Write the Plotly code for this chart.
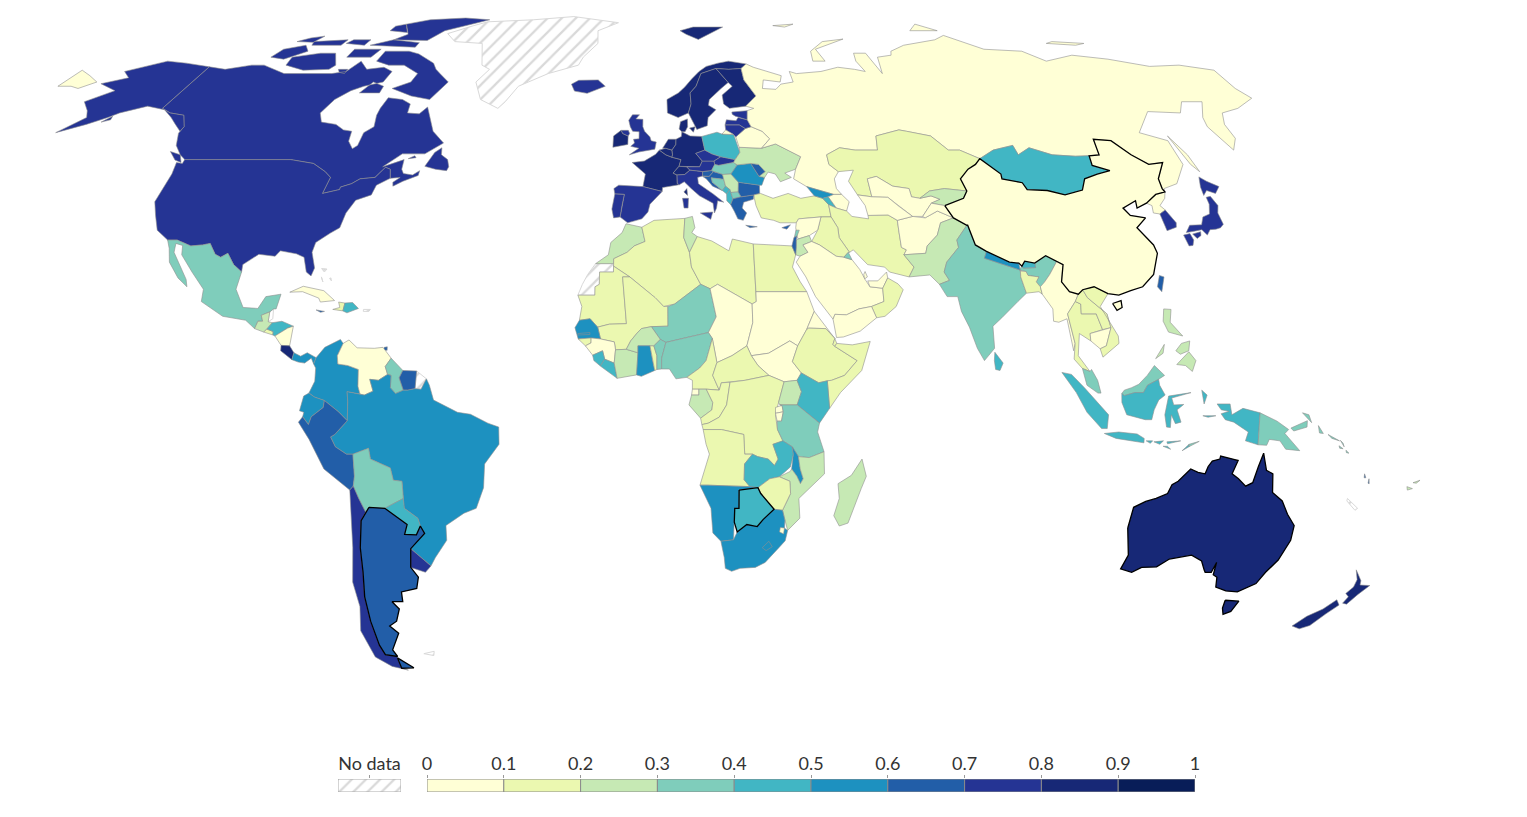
"""World choropleth on a Robinson projection, drawn as filled xy traces (no topojson offline)."""
import numpy as np
import plotly.graph_objects as go

# ── Legend ──────────────────────────────────────────────────────────────────
BIN_EDGES = [0, 0.1, 0.2, 0.3, 0.4, 0.5, 0.6, 0.7, 0.8, 0.9, 1]
TICK_LABELS = ["0", "0.1", "0.2", "0.3", "0.4", "0.5", "0.6", "0.7", "0.8", "0.9", "1"]
BIN_COLORS = ["#ffffd6", "#ebf8b0", "#c6e9b4", "#7fcdbb", "#41b6c4",
              "#1d91c0", "#225ea8", "#253494", "#172876", "#081d58"]
NO_DATA = "No data"

# ── Values (bin middles) ────────────────────────────────────────────────────
AMERICAS_ISO = ["CAN", "USA", "MEX", "GTM", "BLZ", "SLV", "HND", "NIC", "CRI", "PAN", "CUB", "JAM", "HTI", "DOM",
                "PRI", "BHS", "TTO", "COL", "VEN", "GUY", "SUR", "GUF", "BRA", "ECU", "PER", "BOL", "PRY", "CHL",
                "ARG", "URY", "FLK", "GRL"]
AMERICAS_VAL = [.75, .75, .35, .25, None, .15, .45, .05, .85, .55, .05, .65, .15, .45,
                None, None, .65, .55, .05, .35, .65, None, .55, .55, .65, .35, .45, .75,
                .65, .75, None, None]
EUROPE_ISO = ["ISL", "IRL", "GBR", "FRA", "ESP", "PRT", "BEL", "NLD", "DEU", "CHE", "AUT", "ITA", "CZE", "SVK",
              "POL", "HUN", "SVN", "HRV", "BIH", "SRB", "MNE", "ALB", "MKD", "GRC", "BGR", "ROU", "MDA", "UKR",
              "BLR", "LTU", "LVA", "EST", "NOR", "SWE", "FIN", "DNK", "CYP", "RUS"]
EUROPE_VAL = [.75, .85, .75, .85, .75, .75, .85, .85, .85, .85, .75, .75, .75, .75,
              .45, .35, .65, .65, .35, .25, .45, .45, .35, .65, .65, .55, .65, .25,
              .05, .75, .75, .75, .85, .85, .85, .85, .65, .05]
AFRICA_ISO = ["MAR", "ESH", "DZA", "TUN", "LBY", "EGY", "MRT", "MLI", "NER", "TCD", "SDN", "SSD", "ERI", "ETH",
              "DJI", "SOM", "SEN", "GMB", "GNB", "GIN", "SLE", "LBR", "CIV", "BFA", "GHA", "TGO", "BEN", "NGA",
              "CMR", "CAF", "GNQ", "GAB", "COG", "COD", "UGA", "RWA", "BDI", "KEN", "TZA", "AGO", "ZMB", "MWI",
              "MOZ", "ZWE", "NAM", "BWA", "ZAF", "SWZ", "LSO", "MDG"]
AFRICA_VAL = [.25, None, .15, .25, .15, .15, .15, .15, .35, .05, .05, .05, .05, .15,
              .15, .15, .55, .55, .15, .05, .45, .45, .25, .25, .55, .15, .35, .35,
              .15, .15, .05, .25, .15, .15, .25, .05, .05, .45, .35, .15, .45, .55,
              .25, .15, .55, .45, .55, .05, .55, .25]
ASIA_ISO = ["TUR", "GEO", "ARM", "AZE", "IRN", "IRQ", "SYR", "LBN", "JOR", "ISR", "SAU", "KWT", "QAT", "ARE",
            "OMN", "YEM", "AFG", "PAK", "IND", "BTN", "NPL", "BGD", "LKA", "MMR", "THA", "LAO", "KHM", "VNM",
            "MYS", "MNG", "KAZ", "UZB", "TKM", "KGZ", "TJK", "PRK", "KOR", "JPN", "TWN", "PHL", "IDN", "TLS",
            "CHN"]
ASIA_VAL = [.15, .55, .45, .05, .15, .15, .05, .35, .25, .65, .05, .35, .05, .05,
            .15, .05, .05, .25, .35, .45, .55, .15, .45, .05, .15, .15, .05, .15,
            .35, .45, .15, .05, .05, .25, .05, .05, .75, .75, .65, .25, .45, .35,
            .05]
OCEANIA_ISO = ["PNG", "SLB", "VUT", "NCL", "FJI", "AUS", "NZL"]
OCEANIA_VAL = [.35, .35, .65, None, .25, .85, .85]
HIGHLIGHTED = ["CHN", "BWA", "ARG", "AUS"]

# ── Outlines, hand traced: "lon,lat lon,lat ..." with | between rings ───────
AMERICAS_SHAPES = {
    "GRL": "-73,78.2 -68,76 -58,75.5 -54,70 -51,69 -53.5,66 -50,62 -44,60 -42.5,61.5 -40,65 -32,68 -23,70 -22,72 -18,75.5 -19,79 -12,81.5 -30,83.6 -45,82.5 -62,81.8 -66,80.5",
    "CAN": "-141,69.6 -135,69 -128,70 -124,70 -115,68 -108,68 -100,68 -96,68.5 -94,71 -90,69 -85,69.5 -81.5,68.5 -82,66 -87,65 -90,64 -93,62 -94.5,59 -92.5,57 -88,56.5 -85,55.3 -82.5,55 -82,52.9 -80,51.3 -79,52 -79,54.7 -77,56 -78,58.5 -78,60 -77.5,62.4 -73,62 -70,61 -69.5,59 -66,58.8 -64.5,60.3 -62,57.5 -60,55 -56,52.5 -60,50.2 -66,50.2 -70,47.5 -65,49 -64.8,47 -64,46.1 -61.5,45.8 -60,46.7 -60,45.7 -63.5,44.5 -65.7,43.5 -66,44.3 -64.5,45.3 -67,45.1 -67.8,47 -69.2,47.4 -71,45.3 -74.7,45 -76.5,44 -79,43.3 -79,42.8 -83,42 -82.5,45.3 -84.5,46.5 -88.5,48.2 -95,49 -123,49 -125,50 -128,52 -130,54.6 -130,56 -133,58.5 -137.5,59 -141,60"
           "|-59,47.6 -56,47 -53,46.7 -52.7,47.5 -53.5,49 -55.5,50 -56,51.5 -57.5,50.5"
           "|-123.5,48.4 -125.5,48.9 -128.3,50.7 -125,50"
           "|-62,66 -65,62 -71,62.8 -78,64.5 -73.5,66 -73,68 -79,70 -84,70 -89,71 -89,73.5 -81,73.5 -77,72.8 -70,70.5 -68,69 -66,68"
           "|-117,70 -110,68.8 -102,69 -101,70 -105,73 -110,73 -118,72"
           "|-125,72 -120,71.5 -115,73.5 -118,75 -124,74"
           "|-87,63.5 -81,63.5 -81,65 -85,66"
           "|-96,75 -80,74.5 -80,75.7 -90,76.5"
           "|-90,76.5 -78,76.3 -75,79 -62,82.5 -72,83.1 -85,82.5 -92,81 -87,78"
           "|-100,72 -92,72 -91,74 -100,74"
           "|-116,75 -106,75 -106,76.5 -117,76"
           "|-95,79 -88,78.5 -92,81 -95,80.3"
           "|-123,76 -117,75.8 -116,77.5 -120,77"
           "|-105,75.5 -98,75 -98,76.5 -104,76.5"
           "|-99,69 -96,69 -96,68 -98,68.3"
           "|-64,49.2 -62,49.4 -62.5,49.8",
    "USA": "-123,49 -95,49 -88.5,48.2 -84.5,46.5 -82.5,45.3 -83,42 -79,42.8 -79,43.3 -76.5,44 -74.7,45 -71,45.3 -69.2,47.4 -67.8,47 -67,45.1 -70,43.7 -70.5,41.7 -74,40.6 -75.5,38 -76,35 -78,33.9 -81,32 -81.3,30 -80,26.8 -80.5,25.2 -81.8,26 -83,29 -85,29.7 -89,30.3 -90,29.2 -94,29.6 -97.3,27.5 -97.2,26 -99.5,27.5 -101.5,29.8 -103,29 -104.5,29.6 -106.5,31.8 -108.2,31.5 -111,31.3 -114.8,32.5 -117.1,32.5 -120.5,34.5 -122.5,37.5 -124.3,40.3 -124,46 -124.7,48.4 -123,48.2"
           "|-141,69.6 -141,60 -137.5,59 -133,58.5 -130,56 -130,55 -133,56.5 -136,58 -140,59.7 -146,60.5 -152,59 -154,58 -158,56.5 -164,54.7 -160,58 -162,59.5 -166,61.5 -161,64 -168,65.6 -162,67 -166,68.5 -157,71 -150,70.5"
           "|-154.5,57 -152.5,57.5 -153,58.3",
    "MEX": "-117.1,32.5 -114.8,32.5 -111,31.3 -108.2,31.5 -106.5,31.8 -104.5,29.6 -103,29 -101.5,29.8 -99.5,27.5 -97.2,26 -97.8,22.5 -95.5,18.8 -92,18.6 -90.5,21 -87,21.5 -87.7,18.5 -88.3,18.5 -89.1,17.9 -91,17.2 -90.5,16 -91.6,16 -92.2,14.5 -94.5,16.2 -100,17 -105.5,20 -105.5,22.5 -109,26 -112.5,29.5 -113,31.4 -114.8,31.8 -114.5,30 -110,24.5 -109.5,23 -112,24.8 -115,28 -116,30.8",
    "GTM": "-92.2,14.5 -91.6,16 -90.5,16 -91,17.2 -89.1,17.9 -89.2,15.9 -88.2,15.7 -89.3,14.4 -90,13.8",
    "BLZ": "-89.1,17.9 -88.3,18.5 -88.2,16.5 -89.2,15.9",
    "SLV": "-90,13.8 -89.3,14.4 -87.8,13.9 -87.8,13.2",
    "HND": "-89.3,14.4 -88.2,15.7 -86,16 -83.2,15 -84.5,14.6 -87.3,13 -87.8,13.2 -87.8,13.9",
    "NIC": "-87.3,13 -84.5,14.6 -83.2,15 -83.7,11 -85.7,11.1",
    "CRI": "-85.7,11.1 -83.7,11 -82.6,9.6 -83,8.2 -85.7,10",
    "PAN": "-83,8.2 -82.6,9.6 -81,8.9 -79.5,9.6 -77.4,8.6 -77.9,7.3 -78.5,8.5 -80,7.5 -81.5,7.7",
    "CUB": "-85,21.9 -82,23.1 -77,22.2 -74.2,20.2 -77.5,19.9 -78,20.7 -82,22",
    "JAM": "-78.3,18.3 -76.3,18 -77.2,17.8",
    "HTI": "-74.4,18.4 -72,18.1 -71.7,19.7 -73.2,19.9 -72.8,18.8",
    "DOM": "-71.7,19.7 -72,18.1 -71,17.7 -68.4,18.6 -69.9,19.8",
    "PRI": "-67.2,18.4 -65.6,18.4 -65.9,18 -67.2,18",
    "BHS": "-78.3,26.7 -77,26.6 -77.5,26|-78,25 -77.5,24 -77.8,24.8|-76,24.7 -75.5,24.2 -75.7,24.8",
    "TTO": "-61.9,10.1 -61,10.1 -61,10.8 -61.7,10.7",
    "COL": "-77.4,8.6 -75.5,10.7 -72,12.3 -71.3,11.5 -72.5,9 -72.3,7.3 -70,7 -67.5,6.2 -67.5,2.8 -67,1.2 -70,1.7 -69.8,-0.3 -70,-4.2 -72,-2.4 -75.2,-0.1 -77.5,0.6 -78.8,1.4 -77.5,3.8 -77.4,6.5 -77.9,7.3",
    "VEN": "-71.3,11.5 -70,12.2 -68,10.6 -64,10.5 -62,10.7 -60,8.5 -61.3,6.8 -60.7,5.2 -62.8,4 -64.8,4.2 -64,1.8 -66,1 -67,1.2 -67.5,2.8 -67.5,6.2 -70,7 -72.3,7.3 -72.5,9",
    "GUY": "-60,8.5 -57.2,6 -58,4.5 -57,2 -58.8,1.3 -60,2.5 -59.9,5 -60.7,5.2 -61.3,6.8",
    "SUR": "-57.2,6 -54,5.9 -54.3,2.3 -56,2 -57,2 -58,4.5",
    "GUF": "-54,5.9 -51.7,4.3 -52.9,2.2 -54.3,2.3",
    "BRA": "-51.7,4.3 -52.9,2.2 -54.3,2.3 -56,2 -57,2 -58.8,1.3 -60,2.5 -59.9,5 -60.7,5.2 -62.8,4 -64.8,4.2 -64,1.8 -66,1 -67,1.2 -70,1.7 -69.8,-0.3 -70,-4.2 -73,-7 -74,-7.5 -73,-9.5 -70.5,-11 -69,-11 -65.3,-9.8 -65,-12 -60.5,-13.8 -60,-16.3 -58,-16.5 -58,-20 -58,-22 -55,-24 -54.6,-25.6 -53.8,-27.1 -57.6,-30.2 -53.4,-33.7 -52,-32 -48.7,-28.5 -48.5,-25.5 -44,-23 -41,-22 -39,-17.8 -38.5,-13 -35,-9 -35,-5.5 -37.5,-4.7 -41.5,-2.9 -44.5,-2.5 -48,-0.8 -50,0 -51,3",
    "ECU": "-75.2,-0.1 -75.5,-1.5 -78.3,-3.4 -79,-5 -80.3,-3.4 -80,-2.5 -81,-2.2 -80,0.8 -78.8,1.4 -77.5,0.6",
    "PER": "-75.2,-0.1 -72,-2.4 -70,-4.2 -73,-7 -74,-7.5 -73,-9.5 -70.5,-11 -69,-11 -69,-15.5 -69.5,-17.5 -70.4,-18.3 -76,-14 -79,-8 -81.3,-4.5 -80.3,-3.4 -79,-5 -78.3,-3.4 -75.5,-1.5",
    "BOL": "-69,-11 -65.3,-9.8 -65,-12 -60.5,-13.8 -60,-16.3 -58,-16.5 -58,-20 -62.6,-22 -66.3,-21.8 -67.2,-22.8 -68.5,-20 -69.5,-17.5 -69,-15.5",
    "PRY": "-58,-20 -58,-22 -55,-24 -54.6,-25.6 -55.8,-27.4 -58.6,-27.3 -57.7,-25.3 -62.6,-22",
    "CHL": "-70.4,-18.3 -69.5,-17.5 -68.5,-20 -67.2,-22.8 -68.5,-24.5 -69.7,-30 -70.3,-35 -71.5,-40 -72,-45 -72,-50 -71.5,-52 -68.4,-52.4 -68.6,-52.7 -68.6,-54.9 -67,-55.3 -71,-54.5 -74.5,-52.5 -75.5,-47 -73.5,-42 -73.5,-37 -71.5,-30",
    "ARG": "-66.3,-21.8 -62.6,-22 -57.7,-25.3 -58.6,-27.3 -55.8,-27.4 -54.6,-25.6 -53.8,-27.1 -57.6,-30.2 -58.4,-34 -57,-36 -58,-38.3 -62,-39 -62.3,-41 -65,-41 -63.7,-42.5 -65.3,-45 -67.5,-46 -65.8,-47.5 -69,-51 -68.4,-52.4 -71.5,-52 -72,-50 -72,-45 -71.5,-40 -70.3,-35 -69.7,-30 -68.5,-24.5 -67.2,-22.8"
           "|-68.6,-52.7 -65.2,-54.8 -68.6,-54.9",
    "URY": "-57.6,-30.2 -53.4,-33.7 -55,-35 -58.4,-34",
    "FLK": "-61,-51.8 -58,-51.3 -58.5,-52.2",
}

EUROPE_SHAPES = {
    "ISL": "-24,65.5 -22,66.4 -16,66.5 -13.6,65 -18.8,63.4 -22.7,63.9",
    "IRL": "-10,52 -10,54 -8,55.2 -7.5,54.5 -6,54 -6,52.2 -10,51.6",
    "GBR": "-5.5,50 -3,50.6 1.3,51.2 1.7,52.7 0.3,53 0,53.8 -1.5,55 -2,56 -2,57.6 -4,57.7 -3,58.6 -5,58.6 -6,57.4 -5.5,56 -4.8,55 -3,54.9 -3,53.4 -4.5,53.3 -4.2,52.5 -5.2,51.8 -3,51.4"
           "|-8,55.2 -6,55.2 -5.6,54.5 -6,54 -7.5,54.5",
    "FRA": "-1.8,43.4 -1.2,46 -4.7,48.4 -1.5,48.7 1.5,50.1 2.5,51 4.2,50 5.8,49.5 8.2,49 7.6,47.6 6,46.2 7,45.8 7,44 7.5,43.8 3.2,43.2 3.1,42.4|8.6,42.3 9.4,43 9.5,41.6",
    "ESP": "-9.2,43 -8,43.7 -1.8,43.4 3.1,42.4 0,39.8 -0.5,38.2 -2,36.8 -5.5,36 -7.4,37.2 -7,39.5 -6.5,41.8 -8.9,41.9",
    "PRT": "-8.9,41.9 -6.5,41.8 -7,39.5 -7.4,37.2 -9,37 -9.5,38.8",
    "BEL": "2.5,51 4.2,51.4 5.9,51 6,50 5.8,49.5 4.2,50",
    "NLD": "3.4,51.4 4.2,51.4 5.9,51 7,52.2 7.1,53.3 5,53.3",
    "DEU": "7,52.2 7.1,53.3 8.6,53.9 8.8,54.9 10,54.4 11,54 14.2,53.9 14.7,51 12.2,50.3 13.8,48.7 13,47.5 9.6,47.5 7.6,47.6 8.2,49 5.8,49.5 6,50 5.9,51",
    "CHE": "6,46.2 7.6,47.6 9.6,47.5 10.4,46.8 9,45.9 7,45.8",
    "AUT": "9.6,47.5 13,47.5 13.8,48.7 16.9,48.7 17,48 16,46.7 13.7,46.5 10.4,46.8",
    "ITA": "7,45.8 9,45.9 10.4,46.8 13.7,46.5 13.6,45.6 12.3,45.3 12.4,44 16,41.9 18.5,40.2 17,40.5 16.6,39 16,38 15.8,40 12.5,41.5 10.5,43 8.8,44.4 7.5,43.8 7,44"
           "|12.5,38 15.6,38.2 15,36.7|8.2,41 9.7,41 9.5,39 8.5,39",
    "CZE": "12.2,50.3 14.7,51 16.5,50.2 18.8,49.6 16.9,48.7 13.8,48.7",
    "SVK": "18.8,49.6 22.5,49 22,48.4 18,47.8 17,48 16.9,48.7",
    "POL": "14.2,53.9 18.5,54.8 19.8,54.4 23,54.3 24,50.5 22.5,49 18.8,49.6 16.5,50.2 14.7,51",
    "HUN": "16,46.7 17,48 18,47.8 22,48.4 22.9,47.9 21,46 18.8,45.9 16.5,46.5",
    "SVN": "13.7,46.5 16,46.7 16.5,46.5 15.3,45.5 13.6,45.6",
    "HRV": "13.6,45.5 15.3,45.5 16.5,46.5 18.8,45.9 19,44.9 15.8,45.2 16,44.3 18.4,42.6 16,43.5 14.5,45",
    "BIH": "15.8,45.2 19,44.9 19.3,43.5 18.4,42.6 16,44.3",
    "SRB": "18.8,45.9 21,46 22.7,44.3 22.4,42.3 20.5,42.2 20.3,42.8 19.3,43.5 19,44.9",
    "MNE": "18.4,42.6 19.3,43.5 20.3,42.8 19.4,41.9",
    "ALB": "19.4,41.9 20.3,42.8 20.5,42.2 20.9,40.9 20.2,39.7 19.3,40.5",
    "MKD": "20.5,42.2 22.4,42.3 23,41.3 20.9,40.9",
    "GRC": "20.2,39.7 20.9,40.9 23,41.3 26.3,41.7 26,40.8 23.5,40.2 23,39 24,38 23,36.5 21.7,36.8 21,38.3|23.5,35.5 26.3,35.2 24.5,35",
    "BGR": "22.4,42.3 22.7,44.3 28,43.7 27.8,42 26.3,41.7 23,41.3",
    "ROU": "21,46 22.9,47.9 26.5,48.2 28.2,45.5 29.6,45.3 28.6,43.7 28,43.7 22.7,44.3",
    "MDA": "26.5,48.2 28.5,48 30,46.5 28.2,45.5",
    "UKR": "22.5,49 24,50.5 24,51.6 30,51.4 34,52.3 40,49.6 38,47 35,46.2 36.5,45.3 33.5,44.4 32.5,46 30.7,46.4 29.6,45.3 28.2,45.5 30,46.5 28.5,48 26.5,48.2 22.9,47.9 22,48.4",
    "BLR": "24,51.6 23.5,53.8 26.5,55.6 28.2,56 31,55 32.7,53.4 30,51.4",
    "LTU": "21,55.3 21,56.4 25,56.4 26.5,55.6 23.5,53.8 23,54.3",
    "LVA": "21,56.4 21.6,57.5 24.3,57.3 25,58 27.5,57.5 28.2,56 26.5,55.6 25,56.4",
    "EST": "23.5,59.2 28,59.5 27.5,57.5 25,58 24.3,58.3 23.5,58.7",
    "NOR": "5,59 5,62 8.5,63.5 10.5,64.8 13,66.8 15.5,68.5 18,69.7 22,70.5 25.5,71 31,70.3 29,69.2 25,69 21,69.2 16,68 14,65 12,63.5 12,61 11,59 8,58|11,79 16,80 27,80 21,78 17,76.6 13,78",
    "SWE": "11,59 12,61 12,63.5 14,65 16,68 21,69.2 24,65.9 21.5,64.5 17.5,62 17,60.7 19,59.7 16.5,58 16,56.2 13,55.4",
    "FIN": "21,69.2 25,69 29,69.2 29,66.5 31.5,62.8 27.8,60.5 23,60 21.5,61 21.5,63 25,65 24,65.9",
    "DNK": "8.1,55.5 8.6,57.1 10.6,57.7 10.5,56 9.7,54.9 8.8,54.9|11,55.7 12.6,56 12,54.8",
    "CYP": "32.3,35 34.5,35.6 33.5,34.7",
    "RUS": "31,70.3 33,69.5 41,67.5 40,66 35,66.5 34,64.5 38,64.3 40,65.5 44,66 44,68.5 46,68 54,68.5 60,69.5 65,69 68,68.5 67,71 68,73 72,73 73,68 75,72 80,72.5 81,73.5 87,75 100,76.5 105,77.7 113,74 125,73.5 129,71 140,72.5 150,71.5 160,69.7 170,70 178.8,68.8 177,64.5 178,62.3 170,60 164,59 161,56.5 160,53.5 156.5,51 155.5,56 157,58 162,61.5 156,61.5 152,59 143,59.3 135,54.7 141,53 140,48 135,44 131,43 130.7,42.3 130.5,43 131,45 135,48.4 131,48 128,50 125.5,53 121,53.3 119.5,50 116.7,49.8 113,49.7 107,50 102,51.5 98,50 98,52 92,51 88,49.5 87.3,49.2 83,51 80,51 77,54 71,55 69,55.3 62,54 61,51 55,51 51,51.5 47,50 47,48 49,46.5 47.5,45 47.5,43 48.5,41.8 46.5,41.8 43.5,42.5 40,43.4 37,45 38,47 40,49.6 34,52.3 30,51.4 32.7,53.4 31,55 28.2,56 27.5,57.5 28,59.5 30,60 27.8,60.5 31.5,62.8 29,66.5 29,69.2"
           "|19.8,54.4 23,54.3 21,55.3"
           "|142,54 143,50 143,46.5 142,48"
           "|53,71 57,71 56,74 68,76.7 60,76 54,73.5"
           "|95,79 105,79 100,81"
           "|137,75.5 146,75 150,75.5 140,76"
           "|46,80.5 54,81 50,80"
           "|-180,65 -176,65 -173,64.5 -170,66 -175,67.5 -180,68.8",
}

AFRICA_SHAPES = {
    "MAR": "-5.9,35.8 -2,35.1 -1.2,32.2 -3.8,31.3 -5.5,30 -8.7,28.7 -8.7,27.7 -13,27.7 -10,29.5 -9.5,32 -6.8,34",
    "ESH": "-13,27.7 -8.7,27.7 -8.7,26 -12,26 -12,23.5 -13,23 -13,21.3 -17,21.3 -16,23.5 -14.8,25.5",
    "DZA": "-2,35.1 1,36.5 8.6,36.9 8.2,33 9.5,30 9.9,27 12,23.5 5.8,19.5 3.2,19 1.2,20.8 -4.8,25 -8.7,27.2 -8.7,28.7 -5.5,30 -3.8,31.3 -1.2,32.2",
    "TUN": "8.6,36.9 10.5,37.3 11,35 10.2,34 11.5,33.2 9.5,30 8.2,33",
    "LBY": "11.5,33.2 15,32.3 19,30.3 20,32.7 25,31.7 25,20 24,19.5 16,23.5 14.2,22.6 12,23.5 9.9,27 9.5,30",
    "EGY": "25,31.7 31,31.5 34.3,31.3 35,29.5 34,27 35.6,24 37,22 25,22",
    "MRT": "-17,21.3 -13,21.3 -13,23 -12,23.5 -12,26 -8.7,26 -8.7,27.2 -4.8,25 -6.5,25 -5.5,15.5 -9.5,15.4 -12.2,14.8 -14,16.5 -16.5,16.2 -16,19",
    "MLI": "-4.8,25 1.2,20.8 3.2,19 4.2,19 4.2,15 0.3,14.9 -2,14.5 -3,13.6 -4.5,12 -5.5,10.3 -8,10.2 -8.3,11.8 -11.5,12.4 -12.2,14.8 -9.5,15.4 -5.5,15.5 -6.5,25",
    "NER": "4.2,19 5.8,19.5 12,23.5 14.2,22.6 15.5,16.9 13.6,13.7 9,12.8 3.7,11.7 2.4,12.3 0.3,14.9 4.2,15",
    "TCD": "14.2,22.6 16,23.5 24,19.5 24,15.7 22.5,11 19,9 15.5,7.6 14.5,12.5 13.6,13.7 15.5,16.9",
    "SDN": "24,19.5 25,20 25,22 37,22 38.5,18 36.5,14.3 34.3,11 32.5,12 27.5,9.5 23.5,9 22.5,11 24,15.7",
    "SSD": "23.5,9 27.5,9.5 32.5,12 34.3,11 33,7.8 35,5.5 34,4 31,3.7 27.5,5 25,7",
    "ERI": "36.5,14.3 38.5,18 43,12.5 41,14.5 37,14.6",
    "ETH": "36.5,14.3 37,14.6 41,14.5 43,12.5 42.5,11.3 42.9,10.9 48,8 45,5 42,4 41,3.9 39,3.5 35,5.5 33,7.8 34.3,11",
    "DJI": "42.5,11.3 43,12.5 43.4,11.5 42.9,10.9",
    "SOM": "42.9,10.9 43.4,11.5 47,11.2 51.2,11.9 49,6 44,1.5 41.5,-1.7 41,3.9 42,4 45,5 48,8",
    "SEN": "-17.5,14.7 -16.5,16.2 -14,16.5 -12.2,14.8 -11.5,12.4 -13.7,12.6 -16.7,12.4",
    "GMB": "-16.8,13.5 -14,13.7 -14,13.3 -16.8,13.2",
    "GNB": "-16.7,12.4 -13.7,12.6 -13.7,11.6 -15,11",
    "GIN": "-13.7,12.6 -11.5,12.4 -8.3,11.8 -8,10.2 -8.3,7.5 -10.5,8.3 -11,10 -13.3,9.1 -15,11 -13.7,11.6",
    "SLE": "-13.3,9.1 -11,10 -10.5,8.3 -11.5,6.9 -13,8",
    "LBR": "-11.5,6.9 -10.5,8.3 -8.3,7.5 -7.6,4.4",
    "CIV": "-8.3,7.5 -8,10.2 -5.5,10.3 -2.8,9.6 -3.1,5.1 -7.6,4.4",
    "BFA": "-5.5,10.3 -4.5,12 -3,13.6 -2,14.5 0.3,14.9 2.4,12.3 0.9,11 -2.8,11 -2.8,9.6",
    "GHA": "-2.8,11 0,11 0.6,8 1.1,6 -2,4.8 -3.1,5.1 -2.8,9.6",
    "TGO": "0,11 0.9,11 1.6,9 1.6,6.2 1.1,6 0.6,8",
    "BEN": "0.9,11 2.4,12.3 3.7,11.7 2.7,8.5 2.7,6.3 1.6,6.2 1.6,9",
    "NGA": "2.7,6.3 2.7,8.5 3.7,11.7 9,12.8 13.6,13.7 14.5,12.5 13,8 11.5,6.5 8.5,4.6 6,4.3 4.5,6.3",
    "CMR": "8.5,4.6 11.5,6.5 13,8 14.5,12.5 15.5,7.6 14.5,5 16,2 13,2.2 9.8,2.2 9.8,4",
    "CAF": "15.5,7.6 19,9 22.5,11 23.5,9 25,7 27.5,5 22,4 18.5,3.6 16.5,3.5 16,2 14.5,5",
    "GNQ": "9.8,2.2 11.3,2.2 11.3,1 9.6,1",
    "GAB": "9.6,1 11.3,1 11.3,2.2 13,2.2 14.5,-0.5 14.3,-2 11.7,-3.7 9,-1",
    "COG": "13,2.2 16,2 16.5,3.5 18.5,3.6 17.7,-1 16,-3.5 13.5,-4.7 12,-5 11.7,-3.7 14.3,-2 14.5,-0.5",
    "COD": "18.5,3.6 22,4 27.5,5 31,3.7 29.7,-0.5 29,-3 29.5,-6 30.8,-8.3 28.5,-9 29.8,-12 29,-13.3 27.5,-12 25,-11.5 23.8,-11 22,-11 21.7,-7 16.5,-6 12.3,-6 12,-5 13.5,-4.7 16,-3.5 17.7,-1",
    "UGA": "31,3.7 34,4 35,1.7 34,-1 30,-1 29.7,-0.5",
    "RWA": "29,-1.5 30.5,-1.1 30.8,-2.4 29,-2.7",
    "BDI": "29,-2.7 30.8,-2.4 30.4,-4.3 29.4,-4.3",
    "KEN": "34,4 35,5.5 39,3.5 41,3.9 41.5,-1.7 39.2,-4.7 34,-1 35,1.7",
    "TZA": "30,-1 34,-1 39.2,-4.7 38.8,-6.5 40.4,-10.5 37,-11.7 34.5,-11.5 33,-9.5 30.8,-8.3 29.5,-6 29.4,-4.3 30.4,-4.3 30.8,-2.4 30.5,-1.1",
    "AGO": "12.3,-6 16.5,-6 21.7,-7 22,-11 23.8,-11 22,-13 22,-16.2 23.4,-17.6 13.5,-17.3 11.7,-17.3 13.8,-11 13,-9",
    "ZMB": "22,-13 23.8,-11 25,-11.5 27.5,-12 29,-13.3 29.8,-12 28.5,-9 30.8,-8.3 33,-9.5 33.3,-11 32.7,-13.6 30.2,-15.6 28,-16 25.3,-17.8 23.4,-17.6 22,-16.2",
    "MWI": "33,-9.5 34.5,-11.5 35,-14 35.8,-16 35.2,-17 34.3,-15.5 33,-14 33.3,-11",
    "MOZ": "34.5,-11.5 37,-11.7 40.4,-10.5 40.7,-15 35,-20 35.5,-24 32.8,-26.5 32,-24.5 31.3,-22.4 33,-19 32.7,-16.5 30.2,-15.6 32.7,-14.5 33,-14 34.3,-15.5 35.2,-17 35.8,-16 35,-14",
    "ZWE": "25.3,-17.8 28,-16 30.2,-15.6 32.7,-16.5 33,-19 31.3,-22.4 29.3,-22.2 26,-19",
    "NAM": "11.7,-17.3 13.5,-17.3 23.4,-17.6 25.3,-17.8 20.9,-18.3 21,-22 20,-22 20,-28.4 17,-28.7 15,-27 14.4,-22",
    "BWA": "20.9,-18.3 25.3,-17.8 26,-19 29.3,-22.2 26.8,-24.3 25.5,-25.7 23,-25.3 20.8,-26.8 20,-24.8 20,-22 21,-22",
    "ZAF": "17,-28.7 20,-28.4 20.8,-26.8 23,-25.3 25.5,-25.7 26.8,-24.3 29.3,-22.2 31.3,-22.4 32,-24.5 32,-26 32.8,-26.5 32.4,-28.6 31,-30 28,-33 25.7,-34 22,-34.2 20,-34.8 18.4,-34.2 18,-32",
    "SWZ": "31,-25.9 32,-26 31.9,-27.2 30.9,-26.8",
    "LSO": "27,-30 28.5,-28.7 29.4,-29.8 28,-30.6",
    "MDG": "49.3,-12 50.5,-15.5 49.5,-18 47,-25 45,-25.6 43.5,-23.5 44.5,-20 44,-17 47,-15.3",
}

ASIA_SHAPES = {
    "TUR": "26.3,41.7 28,42 31,41 35,42 38,41 41.5,41.5 43.5,41 44.7,39.7 44.8,37.2 42.3,37.2 36.7,36.8 36,36 32,36 30.5,36.5 27.5,37 26.5,39.5 26.3,41",
    "GEO": "40,43.4 43.5,42.5 46.5,41.8 45,41.3 43.5,41 41.5,41.5",
    "ARM": "43.5,41 45,41.3 46.5,39 44.7,39.7",
    "AZE": "45,41.3 46.5,41.8 48.5,41.8 50,40.3 48.9,38.4 46.5,39",
    "IRN": "44.7,39.7 46.5,39 48.9,38.4 50,37.3 54,36.8 54,37.5 59,37.6 61,36.5 60.8,34 60.7,31 61.8,30.5 61,29.5 63,27 61.5,25 57,26 56,27 52,27.5 49,30.5 48,30 46,33 46,35 44.8,37.2",
    "IRQ": "44.8,37.2 46,35 46,33 48,30 47.7,30 46.5,29 44.7,29.2 41,31.5 39.2,32.2 41,34.5 42.3,37.2",
    "SYR": "42.3,37.2 41,34.5 38.8,33.4 36,32.7 35.8,33.3 35.7,35 36,36 36.7,36.8",
    "LBN": "35.1,33 35.7,34.5 36.5,34.5 35.8,33.3",
    "JOR": "35,29.5 35.5,32.5 36,32.7 38.8,33.4 39.2,32.2 37,31.5 38,30 36,29.2",
    "ISR": "34.3,31.3 35,33 35.8,33.3 35.5,32.5 35.3,31 35,29.5",
    "SAU": "35,28 36,29.2 38,30 37,31.5 39.2,32.2 41,31.5 44.7,29.2 46.5,29 48.4,28.5 50,26.5 51,24.5 52,23 55,22.7 55,20 52,19 49,18.5 46,17.3 43.3,17.4 42.8,16.4 39,21 37,25",
    "KWT": "46.5,29 47.7,30 48.4,28.5",
    "QAT": "50.9,24.6 51.6,25 51.2,26.1 50.8,25.5",
    "ARE": "52,23 51.6,24.2 54,24.2 56.3,26 56.4,24.8 55,22.7",
    "OMN": "55,22.7 56.4,24.8 58.7,23.6 59.8,22.4 57.8,19 55,17 53,16.7 52,19 55,20",
    "YEM": "42.8,16.4 43.4,12.7 45,12.8 49,14 53,16.7 52,19 49,18.5 46,17.3 43.3,17.4",
    "AFG": "60.8,34 61,36.5 65,37.3 68,37 71.5,38.4 75,37 71.5,36 70,33.5 67,31.3 66.3,29.8 61,29.5 61.8,30.5 60.7,31",
    "PAK": "61,29.5 66.3,29.8 67,31.3 70,33.5 71.5,36 75,37 77.8,35.5 74.5,32.5 74.5,31 71,28 70,26 71,24.3 68.5,23.5 66.5,25.4 61.5,25 63,27",
    "IND": "77.8,35.5 74.5,32.5 74.5,31 71,28 70,26 71,24.3 68.5,23.5 70,21 72.5,21 73,18 74.5,14.8 76,10.5 77.5,8 80,10.5 80,15 82.3,16.7 86.5,20 88.8,21.7 88,25 88.2,26.4 80.2,28.8 81,30.2 78.7,31.5 78,35.5"
           "|88,26.4 88.8,27.2 89,26.8 92,26.9 92,27.8 95,29.3 97.4,28.2 95,25.5 93.5,24 92.5,21.5 92.3,23 91.5,24 92.3,25 89.8,25.3 89.5,26.1",
    "BTN": "88.8,27.2 89.7,28.2 92,27.8 92,26.9 89,26.8",
    "NPL": "80.2,28.8 88.2,26.4 88.2,27.8 86,28 81,30.2",
    "BGD": "88,25 88.8,21.7 91.8,22 92.5,21.5 92.3,23 91.5,24 92.3,25 89.8,25.3 89.5,26.1 88.2,26.2",
    "LKA": "80,9.7 81.8,7.5 81,6 80,6.2 79.8,8",
    "MMR": "92.5,21.5 92.3,23 93.5,24 95,25.5 97.4,28.2 98.7,27.5 97.5,24 99,22 101,21.5 100,20 97.8,17.5 98.8,11.5 98.3,10 97.5,16.5 95.5,15.8 94.3,16 94.5,18.5",
    "THA": "100,20 101.2,19.5 101,17.5 104.5,17.5 105.5,14.3 102.5,13.5 102.5,12 101,12.8 100,13.5 99.3,9 101,6.8 101.8,5.8 100.1,6.4 98.3,8.3 98.8,11.5 97.8,17.5",
    "LAO": "100,20 101,21.5 102.2,22.4 103,20.8 107,17.5 107.5,14.7 105.5,14.3 104.5,17.5 101,17.5 101.2,19.5",
    "KHM": "102.5,13.5 105.5,14.3 107.5,14.7 106,11 104.5,10.4 102.5,12",
    "VNM": "102.2,22.4 105,23 108,21.6 105.7,19 109,13 109,11.5 105,8.7 104.5,10.4 106,11 107.5,14.7 107,17.5 103,20.8",
    "MYS": "100.1,6.4 101.8,5.8 102.2,6.2 103.5,4 104.2,1.4 103.5,1.4 101,3"
           "|109,1.3 109.6,2 111.3,2.5 113,3.2 115,5 116.8,7 119,5 117.6,4.2 115,3 114,1.5 112,1.5 109.6,0.9",
    "MNG": "87.3,49.2 91,46 90.7,45 95.5,44.2 96,42.8 101,42.6 105,41.7 110,42.7 112,45 116,46 119.8,46.7 116,47.8 116.7,49.8 113,49.7 107,50 102,51.5 98,50 98,52 92,51 88,49.5",
    "KAZ": "47,50 51,51.5 55,51 61,51 62,54 69,55.3 71,55 77,54 80,51 83,51 87.3,49.2 85.5,48 83,47 80,45 80.5,42.5 75,43 71,42.5 68,41 66,41.3 66,43 62,43.5 58.5,45.5 56,45 56,41.3 52.5,41.7 51,44.5 53,46.8 49,46.5 47,48",
    "UZB": "56,45 58.5,45.5 62,43.5 66,43 66,41.3 68,41 71,41.5 73,40.8 70.5,40 67.5,37.3 65,37.3 62,39.5 60,41.2 56,41.3",
    "TKM": "52.5,41.7 56,41.3 60,41.2 62,39.5 65,37.3 61,36.5 59,37.6 54,37.5 53.8,39.5",
    "KGZ": "71,42.5 75,43 80.5,42.5 79,41 73.7,39.5 70.5,40 73,40.8 71,41.5 68,41",
    "TJK": "68,37 71.5,38.4 75,37 73.7,39.5 70.5,40 67.5,37.3",
    "PRK": "124.4,40 128,41.8 130.7,42.3 129.7,41 127.5,39.5 128.3,38.6 126.5,37.8 125,38 125.5,39.5",
    "KOR": "126.5,37.8 128.3,38.6 129.5,36 129,35.1 126.4,34.4 126.5,36.5",
    "JPN": "130.9,34 132.5,35.5 135.5,35.6 136.8,37.2 138.8,37.8 140,39.8 140.3,41.2 141.5,41.4 142,39.5 141,38 140.9,35.7 139.8,35 138.5,34.7 137,34.6 135.8,33.5 135,34.6 133,34.3"
           "|140,41.6 140.5,43.3 141.8,45.4 143,44.5 145.3,43.4 143.3,42 141.5,42.6"
           "|130,33.5 131.7,33.8 132,32.5 131.3,31.4 130.3,31.3"
           "|132.3,33.7 134.5,34.2 134.2,33.4 133,32.8",
    "TWN": "120,23 121,25.3 122,25 120.8,22",
    "PHL": "120.5,18.5 122.2,18.4 121.5,15.8 124,13 120.8,13.8 119.9,16"
           "|122,7.2 125,9.8 126.5,8 125.5,5.8 124,7"
           "|122,10 123.5,11.5 125.5,12 125,10 123,9.3"
           "|117.2,8.4 119.5,11.3 119,9.5",
    "IDN": "95.3,5.6 97.5,5.2 100.4,2.5 104,-1 106,-3 105.8,-5.8 104.5,-5.8 101,-2.5 98.5,1.5"
           "|105.2,-6.8 108.5,-6.5 112.8,-6.9 114.5,-7.8 114.5,-8.7 108,-7.8"
           "|109,1.3 109.6,0.9 112,1.5 114,1.5 115,3 117.6,4.2 117.8,3 119,1 117.5,0 116.5,-2 116,-4 114.5,-4 110.2,-3 109,-0.5"
           "|119.8,0.8 125,1.5 120.5,0.4 121,-1 123.3,-0.9 121.8,-2 122.8,-4.5 121.5,-4.8 120.5,-3 120.4,-5.6 119.5,-5.5 119,-3"
           "|127.5,2 128.7,1 128,-0.8"
           "|115,-8.3 116.5,-8.3 116,-8.8|116.8,-8.5 119,-8.3 118.2,-9|119.8,-8.5 123,-8.3 120,-8.9|119,-9.4 120.8,-10 120,-9.4"
           "|123.5,-10.3 125,-9 125,-9.5|127.8,-3.2 130.8,-3.2 129,-3.5"
           "|131,-0.8 134,-0.8 134.5,-3 137,-1.7 141,-2.6 141,-9.1 138,-8.3 138.5,-6.5 135,-4.5 133,-4 132,-2.8 133.8,-2.3 132,-2",
    "TLS": "125,-9 127.3,-8.4 125,-9.5",
    "CHN": "73.7,39.5 79,41 80.5,42.5 80,45 83,47 85.5,48 87.3,49.2 91,46 90.7,45 95.5,44.2 96,42.8 101,42.6 105,41.7 110,42.7 112,45 116,46 119.8,46.7 116,47.8 116.7,49.8 119.5,50 121,53.3 125.5,53 128,50 131,48 135,48.4 131,45 130.5,43 130.7,42.3 128,41.8 124.4,40 121.5,39 122,40.5 118,39 119,37.5 122.5,37 119.3,35 121.8,31.5 122,29.8 119.7,25.5 116.5,23 113.5,22.2 110.5,21.3 108,21.6 105,23 102.2,22.4 101,21.5 99,22 97.5,24 98.7,27.5 97.4,28.2 95,29.3 92,27.8 89.7,28.2 88.8,27.2 88.2,27.8 86,28 81,30.2 78.7,31.5 78,35.5 77.8,35.5 75,37"
           "|108.7,19.6 110.8,20.2 110.8,18.8 109.5,18.2",
}

OCEANIA_SHAPES = {
    "PNG": "141,-2.6 145,-4.3 147.8,-6 147,-6.8 150.8,-10.3 147.5,-10 146,-8.3 143.5,-8 143,-9.2 141,-9.1"
           "|148.3,-5.7 152,-4.2 152,-5.5 149,-6.3|150.8,-2.6 153,-4.6 152.3,-3|154.6,-5.2 155.9,-6.8 155,-6.7",
    "SLB": "157,-7 159.8,-8.3 158,-7.8|160,-8.2 161,-9.5 160.7,-8.8|159.8,-9.3 160.8,-9.9 160,-9.8|161.5,-10.2 162.3,-10.8 161.7,-10.7",
    "VUT": "166.7,-15 167.2,-15.8 166.8,-15.8|168,-16 168.3,-17 168,-16.9",
    "NCL": "164,-20 167,-22 166.5,-22.4 164,-20.5",
    "FJI": "177.3,-17.6 178.7,-18 177.6,-18.3|178.5,-16.8 180,-16.3 179.3,-16.9",
    "AUS": "113.7,-26 114.1,-21.8 116.7,-20.6 119,-20 121.5,-19 122.2,-17.2 123.5,-16.5 124.5,-15.5 126,-14 127.8,-14.7 129.5,-15 130,-13.5 130.8,-12.4 132.5,-12 132.6,-11.4 135.5,-12 136.8,-12.3 135.8,-15 137.5,-16 139.5,-17.5 141,-16.8 141.7,-13.5 142.5,-10.8 143.7,-14.3 145.3,-15 146.1,-18.8 148.8,-20.5 150.8,-23.2 153.1,-25.5 153.5,-28.5 152.5,-32.5 150.8,-35 150,-37.3 146.5,-39 143.5,-38.8 140.5,-38 139.5,-36 138.3,-35.5 137.8,-33 137.5,-35 136,-35 135.5,-34.5 134,-32.7 131,-31.5 126,-32.3 123.6,-33.9 120,-34 118,-35 115,-34.3 115.7,-31.5 114.5,-28.5"
           "|144.7,-40.7 148.3,-40.9 148,-43 146.5,-43.6 145.3,-42.3",
    "NZL": "172.7,-40.6 174.3,-41.7 172.7,-43.5 171,-45.9 169,-46.6 166.5,-46 168.3,-44 171,-42.5"
           "|172.7,-34.5 174.5,-36 175.5,-36.7 176,-37.6 178.5,-37.7 177,-39.5 176,-41.5 174.8,-41.3 175,-40 173.8,-39.3 174.7,-38 174.4,-36.5",
}

# ── Robinson projection table, every 5 degrees of latitude ──────────────────
LAT_STEPS = np.arange(0, 95, 5)
PLEN = [1, .9986, .9954, .99, .9822, .973, .96, .9427, .9216, .8962, .8679, .835, .7986, .7597, .7186, .6732, .6213, .5722, .5322]
PDFE = [0, .062, .124, .186, .248, .31, .372, .434, .4958, .5571, .6176, .6769, .7346, .7903, .8435, .8936, .9394, .9761, 1]
CENTER_X, EQUATOR_Y = 650, 400
PX_PER_LON, PX_PER_PDFE = 4.33, 397


def ring_xy(shape):
    """Parse an outline and project it into page-pixel axes, with a None between rings."""
    xs, ys = [], []
    for ring in shape.split("|"):
        pts = [tuple(map(float, p.split(","))) for p in ring.split()]
        pts.append(pts[0])
        for lon, lat in pts:
            xs.append(CENTER_X + PX_PER_LON * np.interp(abs(lat), LAT_STEPS, PLEN) * lon)
            ys.append(EQUATOR_Y - PX_PER_PDFE * np.sign(lat) * np.interp(abs(lat), LAT_STEPS, PDFE))
        xs.append(None)
        ys.append(None)
    return xs, ys


SHAPES = {**AMERICAS_SHAPES, **EUROPE_SHAPES, **AFRICA_SHAPES, **ASIA_SHAPES, **OCEANIA_SHAPES}
values = dict(zip(AMERICAS_ISO + EUROPE_ISO + AFRICA_ISO + ASIA_ISO + OCEANIA_ISO,
                  AMERICAS_VAL + EUROPE_VAL + AFRICA_VAL + ASIA_VAL + OCEANIA_VAL))
HATCH = dict(shape="/", fgcolor="#d9d9d9", bgcolor="white", size=10, solidity=0.22)

fig = go.Figure()

# no-data countries first, highlighted ones last so the bold outline sits on top
order = sorted(SHAPES, key=lambda c: (values[c] is not None, c in HIGHLIGHTED))
for iso in order:
    x, y = ring_xy(SHAPES[iso])
    val = values[iso]
    if val is None:
        fig.add_trace(go.Scatter(
            x=x, y=y, mode="lines", fill="toself", name=iso,
            fillcolor="white", line=dict(color="#d9d9d9", width=1), fillpattern=HATCH,
        ))
        continue
    bold = iso in HIGHLIGHTED
    fig.add_trace(go.Scatter(
        x=x, y=y, mode="lines", fill="toself", name=iso,
        fillcolor=BIN_COLORS[int(val * 10)],
        line=dict(color="#000000" if bold else "#8f8f8f", width=1.3 if bold else 0.6),
        hovertemplate=f"{iso}: {val}<extra></extra>",
    ))

# ── Legend bars on their own small axes ─────────────────────────────────────
fig.add_trace(go.Bar(
    x=[b - a for a, b in zip(BIN_EDGES[:-1], BIN_EDGES[1:])], y=[0] * 10, base=BIN_EDGES[:-1],
    orientation="h", width=1, xaxis="x2", yaxis="y2",
    marker=dict(color=BIN_COLORS, line=dict(color="#8a8a8a", width=1)),
))
fig.add_trace(go.Bar(
    x=[1], y=[0], base=[0], orientation="h", width=1, xaxis="x3", yaxis="y3",
    marker=dict(color="white", line=dict(color="#aaaaaa", width=1), pattern=HATCH),
))

LEGEND_FONT = dict(family="Lato", size=18, color="#333333")
fig.update_layout(
    template="none",
    width=1527, height=817, margin=dict(l=0, r=0, t=0, b=0),
    paper_bgcolor="white", plot_bgcolor="rgba(0,0,0,0)", showlegend=False, hovermode="closest",
    xaxis=dict(range=[0, 1527], visible=False, domain=[0, 1]),
    yaxis=dict(range=[817, 0], visible=False, domain=[0, 1]),
    xaxis2=dict(domain=[427 / 1527, 1195 / 1527], range=[0, 1], anchor="y2", side="top",
                tickmode="array", tickvals=BIN_EDGES, ticktext=TICK_LABELS, tickfont=LEGEND_FONT,
                ticks="outside", ticklen=3, tickcolor="#999999", ticklabelstandoff=-2,
                showgrid=False, zeroline=False, showline=False),
    yaxis2=dict(domain=[25 / 817, 38 / 817], range=[-0.5, 0.5], anchor="x2", visible=False),
    xaxis3=dict(domain=[338 / 1527, 401 / 1527], range=[0, 1], anchor="y3", side="top",
                tickmode="array", tickvals=[0.5], ticktext=[NO_DATA], tickfont=LEGEND_FONT,
                ticks="outside", ticklen=3, tickcolor="#999999", ticklabelstandoff=-2,
                showgrid=False, zeroline=False, showline=False),
    yaxis3=dict(domain=[25 / 817, 38 / 817], range=[-0.5, 0.5], anchor="x3", visible=False),
)

fig.write_html("out.html", config=dict(displayModeBar=False), post_script="document.body.style.margin='0';")
